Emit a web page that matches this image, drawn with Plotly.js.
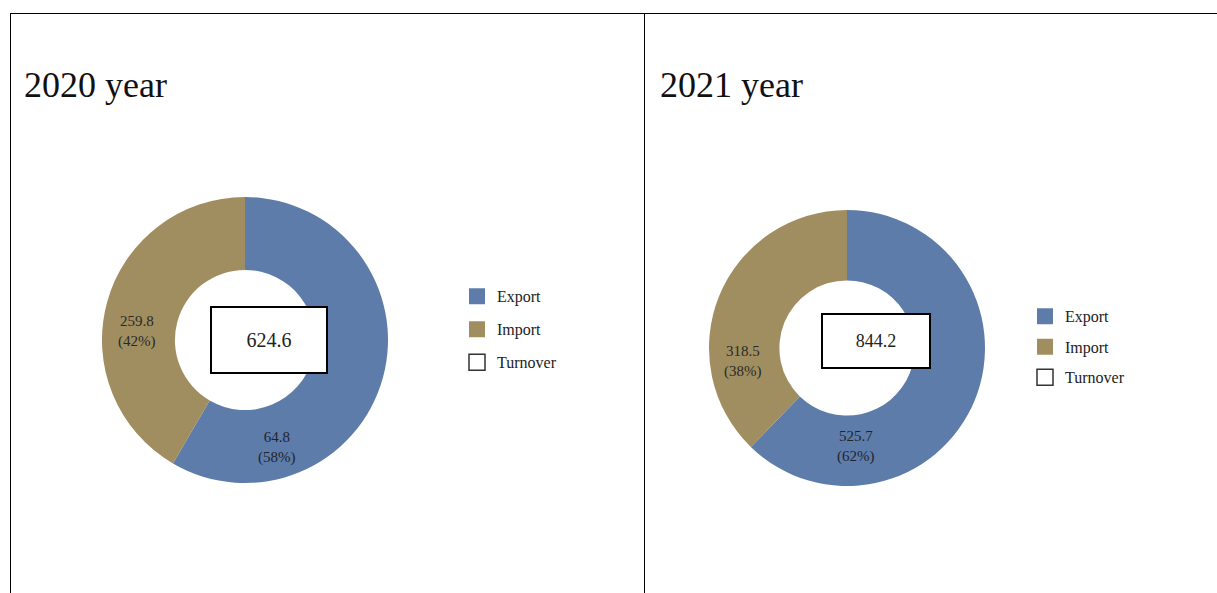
<!DOCTYPE html>
<html>
<head>
<meta charset="utf-8">
<script src="https://cdn.plot.ly/plotly-3.0.1.min.js"></script>
<style>html,body{margin:0;padding:0;background:#fff;}#chart{width:1217px;height:593px;}</style>
</head>
<body>
<div id="chart"></div>
<script>
// ---- data ----
const years = ["2020 year", "2021 year"];
const categories = ["Export", "Import"];
const exportValues = [364.8, 525.7];          // slice sizes (58% / 62%)
const exportShown = ["64.8", "525.7"];        // value text as printed on the chart
const importValues = [259.8, 318.5];
const importShown = ["259.8", "318.5"];
const turnover = [624.6, 844.2];
const legendNames = ["Export", "Import", "Turnover"];

const colors = {Export: "#5d7ca9", Import: "#a08e60"};
const serif = "Liberation Serif, Times New Roman, serif";
const W = 1217, H = 593;
const px = v => v / W, py = v => 1 - v / H;

// pie geometry (pixels) per panel
const pies = [
  {cx: 245, cy: 340, r: 143, box: {w: 114, h: 64, cx: 269, cy: 340, fs: 20},
   imp: {x: 137, y: 331}, exp: {x: 277, y: 447}, leg: {x: 457, y: 280, gap: 10.5}, title: {x: 22, y: 85}},
  {cx: 847, cy: 348, r: 138, box: {w: 106, h: 52, cx: 876, cy: 341, fs: 18},
   imp: {x: 743, y: 361}, exp: {x: 856, y: 446}, leg: {x: 1025, y: 300, gap: 8}, title: {x: 658, y: 85}}
];

const traces = [];
const annotations = [];
const layout = {
  width: W, height: H,
  margin: {l: 0, r: 0, t: 0, b: 0},
  paper_bgcolor: "#fff", plot_bgcolor: "#fff",
  font: {family: serif, color: "#222"},
  xaxis: {visible: false, domain: [0.99, 1]},
  yaxis: {visible: false, domain: [0.99, 1]},
  shapes: [
    {type: "line", xref: "paper", yref: "paper", x0: px(10), x1: 1, y0: py(13.5), y1: py(13.5), line: {color: "#000", width: 1}},
    {type: "line", xref: "paper", yref: "paper", x0: px(10.5), x1: px(10.5), y0: py(13), y1: 0, line: {color: "#000", width: 1}},
    {type: "line", xref: "paper", yref: "paper", x0: px(644.5), x1: px(644.5), y0: py(13), y1: 0, line: {color: "#000", width: 1}}
  ],
  annotations: annotations,
  showlegend: true
};

years.forEach((yr, i) => {
  const g = pies[i];
  const total = exportValues[i] + importValues[i];
  traces.push({
    type: "pie",
    labels: categories,
    values: [exportValues[i], importValues[i]],
    marker: {colors: categories.map(c => colors[c]), line: {width: 0}},
    hole: 0.49,
    sort: false,
    direction: "clockwise",
    rotation: 0,
    textinfo: "none",
    showlegend: false,
    domain: {x: [px(g.cx - g.r), px(g.cx + g.r)], y: [py(g.cy + g.r), py(g.cy - g.r)]},
    hovertemplate: "%{label}: %{value}<extra></extra>"
  });
  const legId = i === 0 ? "legend" : "legend2";
  legendNames.forEach((nm, k) => {
    const isT = nm === "Turnover";
    traces.push({
      type: "scatter", mode: "markers", x: [null], y: [null],
      name: '<span style="font-size:16px">' + nm + '</span>',
      legend: legId, legendgroup: yr + nm,
      marker: {symbol: "square", size: 16, color: isT ? "#fff" : colors[nm],
               line: {color: isT ? "#333" : colors[nm], width: isT ? 1.5 : 0}},
      hoverinfo: "skip"
    });
  });
  layout[legId] = {
    x: px(g.leg.x), y: py(g.leg.y), xanchor: "left", yanchor: "top",
    font: {family: serif, size: 15, color: "#222"},
    tracegroupgap: g.leg.gap, itemwidth: 30, bgcolor: "rgba(0,0,0,0)"
  };
  // title
  annotations.push({xref: "paper", yref: "paper", x: px(g.title.x), y: py(g.title.y),
    xanchor: "left", yanchor: "middle", showarrow: false, text: yr,
    font: {family: serif, size: 36, color: "#111"}});
  // turnover box
  annotations.push({xref: "paper", yref: "paper", x: px(g.box.cx), y: py(g.box.cy),
    xanchor: "center", yanchor: "middle", showarrow: false, text: String(turnover[i]),
    width: g.box.w, height: g.box.h, borderpad: 0, borderwidth: 2, bordercolor: "#000",
    bgcolor: "#fff", font: {family: serif, size: g.box.fs, color: "#222"}});
  // slice labels
  const pct = v => Math.round(100 * v / total) + "%";
  annotations.push({xref: "paper", yref: "paper", x: px(g.imp.x), y: py(g.imp.y),
    xanchor: "center", yanchor: "middle", showarrow: false,
    text: importShown[i] + "<br>(" + pct(importValues[i]) + ")",
    font: {family: serif, size: 15, color: "#2a2a2a"}});
  annotations.push({xref: "paper", yref: "paper", x: px(g.exp.x), y: py(g.exp.y),
    xanchor: "center", yanchor: "middle", showarrow: false,
    text: exportShown[i] + "<br>(" + pct(exportValues[i]) + ")",
    font: {family: serif, size: 15, color: "#1f2530"}});
});

Plotly.newPlot("chart", traces, layout, {displayModeBar: false, staticPlot: true});
</script>
</body>
</html>
